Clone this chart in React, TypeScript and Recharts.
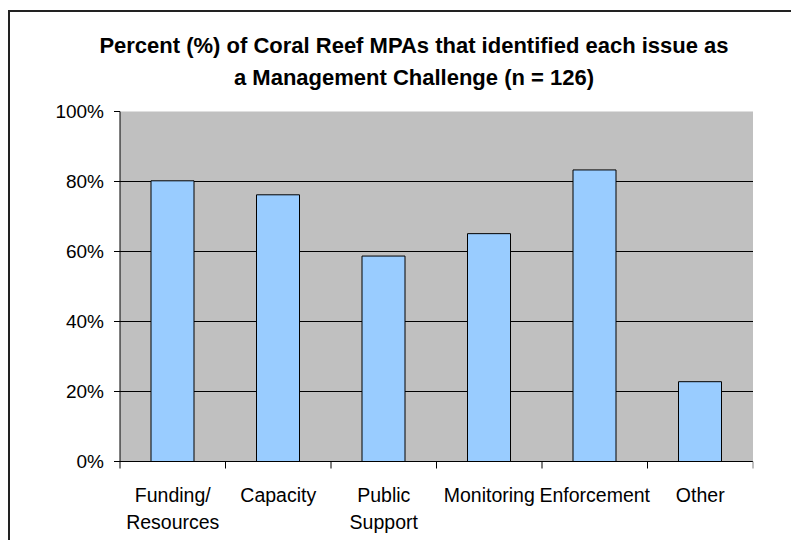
import React from "react";
import { BarChart, Bar, XAxis, YAxis, CartesianGrid } from "recharts";

const categories = ["Funding/\nResources", "Capacity", "Public\nSupport", "Monitoring", "Enforcement", "Other"];
const percentValues = [80.2, 76.2, 58.7, 65.1, 83.3, 22.8];
const yTicks = [0, 20, 40, 60, 80, 100];
const gridValues = [20, 40, 60, 80];

const titleLines = [
  "Percent (%) of Coral Reef MPAs that identified each issue as",
  "a Management Challenge (n = 126)",
];

const CHART_W = 790;
const CHART_H = 540;
const MARGIN = { top: 103.5, right: 45, bottom: 0, left: 0 };
const Y_AXIS_W = 112;
const BAND = (CHART_W - MARGIN.left - MARGIN.right - Y_AXIS_W) / categories.length;

const data = categories.map((name, i) => ({ name, value: percentValues[i] }));

const renderCategoryTick = (props: any) => {
  const { x, y, payload, index } = props;
  const lines = String(payload.value).split("\n");
  const half = BAND / 2;
  return (
    <g>
      <line x1={x - half} x2={x - half} y1={y} y2={y + 7} stroke="#000" />
      {index === categories.length - 1 && (
        <line x1={x + half} x2={x + half} y1={y} y2={y + 7} stroke="#808080" />
      )}
      <text x={x} y={y + 40} textAnchor="middle" fontSize={19.5} fill="#000">
        {lines.map((line, i) => (
          <tspan key={i} x={x} dy={i === 0 ? 0 : 27}>
            {line}
          </tspan>
        ))}
      </text>
    </g>
  );
};

export default function App() {
  return (
    <div
      style={{
        position: "relative",
        width: CHART_W,
        height: CHART_H,
        marginBottom: -8,
        overflow: "hidden",
        fontFamily: '"Liberation Sans", Arial, sans-serif',
        background: "#fff",
      }}
    >
      {/* chart frame, cut off at the right and bottom like the original */}
      <div
        style={{
          position: "absolute",
          left: 0,
          top: 2,
          width: 1000,
          height: 1000,
          border: "2px solid #222",
        }}
      />
      <div
        style={{
          position: "absolute",
          left: 0,
          top: 22,
          width: 812,
          textAlign: "center",
          fontWeight: "bold",
          fontSize: 22,
          lineHeight: "32px",
          color: "#000",
        }}
      >
        {titleLines.map((t) => (
          <div key={t}>{t}</div>
        ))}
      </div>
      <div style={{ position: "absolute", left: 0, top: 0 }}>
        <BarChart width={CHART_W} height={CHART_H} data={data} margin={MARGIN} barSize={43}>
          <CartesianGrid
            xAxisId="bottom"
            yAxisId="left"
            vertical={false}
            horizontalValues={gridValues}
            fill="#C0C0C0"
            fillOpacity={1}
            stroke="#000"
          />
          <XAxis
            xAxisId="bottom"
            dataKey="name"
            height={CHART_H - MARGIN.top - 350}
            interval={0}
            tickSize={0}
            tickMargin={0}
            tickLine={false}
            axisLine={{ stroke: "#000" }}
            tick={renderCategoryTick}
          />
          <XAxis
            xAxisId="top"
            orientation="top"
            dataKey="name"
            height={0}
            tick={false}
            tickLine={false}
            axisLine={{ stroke: "#808080" }}
          />
          <YAxis
            yAxisId="left"
            domain={[0, 100]}
            ticks={yTicks}
            width={Y_AXIS_W}
            tickFormatter={(v) => `${v}%`}
            tickSize={6}
            tickMargin={10}
            axisLine={{ stroke: "#000" }}
            tickLine={{ stroke: "#000" }}
            tick={{ fill: "#000", fontSize: 19 }}
          />
          <YAxis
            yAxisId="right"
            orientation="right"
            domain={[0, 100]}
            width={0}
            tick={false}
            tickLine={false}
            axisLine={{ stroke: "#808080" }}
          />
          <Bar
            xAxisId="bottom"
            yAxisId="left"
            dataKey="value"
            fill="#99CCFF"
            stroke="#000"
            strokeWidth={1}
            isAnimationActive={false}
          />
        </BarChart>
      </div>
    </div>
  );
}
